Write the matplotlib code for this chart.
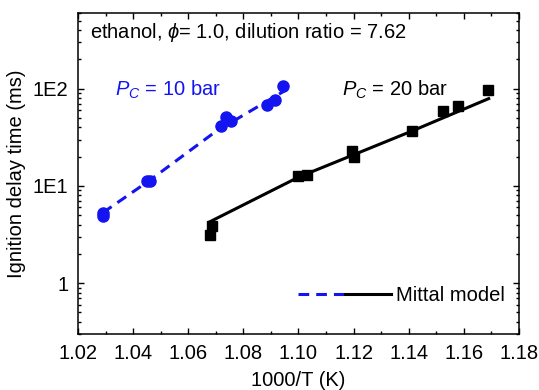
import matplotlib
matplotlib.use("Agg")
import matplotlib.pyplot as plt
from matplotlib.ticker import FixedLocator, FixedFormatter, LogLocator, MultipleLocator, NullFormatter
from matplotlib.legend_handler import HandlerTuple

plt.rcParams['font.family'] = ['Liberation Sans', 'DejaVu Sans']
plt.rcParams['mathtext.fontset'] = 'custom'
plt.rcParams['mathtext.rm'] = 'Liberation Sans'
plt.rcParams['mathtext.it'] = 'Liberation Sans:italic'

# Measured ignition delay times, Pc = 10 bar
x10 = [1.0292, 1.0292, 1.0451, 1.0461, 1.0719, 1.0736, 1.0754, 1.0885, 1.0915, 1.0945]
y10 = [4.9, 5.3, 11.2, 11.3, 40.9, 51.0, 46.0, 68.4, 77.0, 107.0]
# Measured ignition delay times, Pc = 20 bar
x20 = [1.0679, 1.0687, 1.1000, 1.1030, 1.1193, 1.1201, 1.1411, 1.1526, 1.1580, 1.1686]
y20 = [3.12, 3.9, 12.5, 12.8, 22.6, 19.8, 36.9, 59.3, 66.8, 96.0]
# Mittal model predictions
xm10 = [1.029, 1.046, 1.070, 1.0957]
ym10 = [5.3, 11.4, 36.3, 97.7]
xm20 = [1.068, 1.100, 1.141, 1.169]
ym20 = [4.3, 12.3, 36.5, 79.0]

yticks = [1, 10, 100]
yticklabels = ['1', '1E1', '1E2']
xticks = [1.02, 1.04, 1.06, 1.08, 1.10, 1.12, 1.14, 1.16, 1.18]

fs = 14.5
fig = plt.figure(figsize=(5.39, 3.90), dpi=100)
ax = fig.add_axes([0.1447, 0.1436, 0.8182, 0.8231])

blue = '#1414f0'
lb, = ax.plot(xm10, ym10, color=blue, lw=2.2, dashes=(3.5, 2.3))
lk, = ax.plot(xm20, ym20, color='black', lw=2.2)
ax.plot(x10, y10, 'o', color=blue, ms=8, mec=blue)
ax.plot(x20, y20, 's', color='black', ms=7.5)

ax.set_yscale('log')
ax.set_xlim(1.02, 1.18)
ax.set_ylim(0.3, 600)
ax.yaxis.set_major_locator(FixedLocator(yticks))
ax.yaxis.set_major_formatter(FixedFormatter(yticklabels))
ax.yaxis.set_minor_locator(LogLocator(base=10, subs=range(2, 10), numticks=20))
ax.yaxis.set_minor_formatter(NullFormatter())
ax.xaxis.set_major_locator(FixedLocator(xticks))
ax.xaxis.set_major_formatter(FixedFormatter(['%.2f' % v for v in xticks]))
ax.xaxis.set_minor_locator(MultipleLocator(0.01))

ax.tick_params(which='both', direction='in', top=True, right=True, width=1.0)
ax.tick_params(which='major', length=4, labelsize=fs, pad=7)
ax.tick_params(which='minor', length=2.3)
for s in ax.spines.values():
    s.set_linewidth(1.1)

ax.set_xlabel('1000/T (K)', fontsize=fs, labelpad=6)
ax.set_ylabel('Ignition delay time (ms)', fontsize=fs, labelpad=5)

ax.text(0.027, 0.938, r'ethanol, $\phi$= 1.0, dilution ratio = 7.62',
        transform=ax.transAxes, fontsize=fs, va='center', ha='left')
ax.text(1.0334, 97, r'$P_C$ = 10 bar', color=blue, fontsize=fs, va='center', ha='left')
ax.text(1.1158, 97, r'$P_C$ = 20 bar', color='black', fontsize=fs, va='center', ha='left')

ax.legend([(lb, lk)], ['Mittal model'], handler_map={tuple: HandlerTuple(ndivide=None, pad=0)},
          loc='lower right', frameon=False, fontsize=fs, handlelength=4.6,
          handletextpad=0.25, bbox_to_anchor=(1.0, 0.045), borderaxespad=0.3)

fig.savefig('out.png', dpi=100)
